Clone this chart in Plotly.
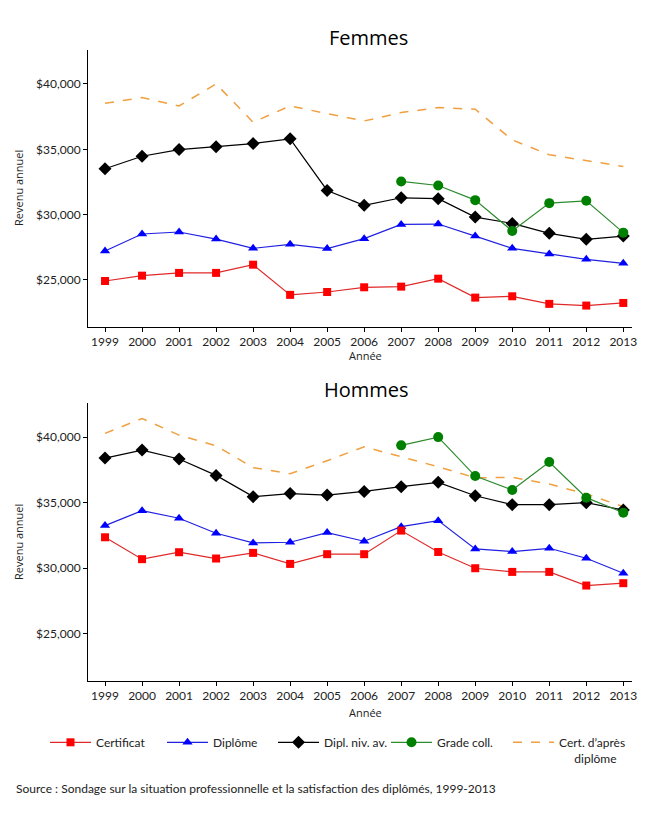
import plotly.graph_objects as go

years = list(range(1999, 2014))
years_grade = list(range(2007, 2014))

# Femmes
f_certificat = [24920, 25330, 25540, 25540, 26170, 23860, 24080, 24440, 24490, 25100, 23650, 23750, 23170, 23040, 23240]
f_diplome = [27220, 28520, 28670, 28130, 27420, 27730, 27400, 28160, 29250, 29280, 28360, 27420, 26990, 26580, 26270]
f_dipl_niv_av = [33510, 34470, 34980, 35190, 35440, 35800, 31850, 30710, 31290, 31220, 29810, 29330, 28570, 28110, 28360]
f_grade_coll = [32540, 32230, 31110, 28750, 30880, 31060, 28620]
f_cert_apres = [38520, 38960, 38320, 40000, 37070, 38320, 37730, 37170, 37810, 38190, 38070, 35720, 34580, 34140, 33690]

# Hommes
h_certificat = [32360, 30690, 31220, 30740, 31170, 30330, 31070, 31070, 32870, 31240, 30000, 29720, 29720, 28680, 28860]
h_diplome = [33250, 34390, 33810, 32670, 31930, 31980, 32720, 32060, 33170, 33630, 31470, 31270, 31520, 30760, 29620]
h_dipl_niv_av = [38400, 39010, 38330, 37080, 35460, 35690, 35580, 35860, 36220, 36550, 35530, 34850, 34850, 35000, 34440]
h_grade_coll = [39370, 40000, 37030, 35960, 38100, 35380, 34240]
h_cert_apres = [40280, 41420, 40150, 39340, 37670, 37210, 38200, 39260, 38500, 37740, 36900, 36930, 36420, 35660, 34700]

series_names = ["Certificat", "Diplôme", "Dipl. niv. av.", "Grade coll.",
                "Cert. d’après<br>&nbsp;&nbsp;&nbsp;&nbsp;&nbsp;diplôme"]
y_ticks = [25000, 30000, 35000, 40000]

W, H = 650, 813
OFF = 8  # page body margin
ML = 88 - OFF
MR = W - (632 - OFF)
PW = W - ML - MR
TICKFONT = dict(family="Lato, Open Sans, sans-serif", size=12, color="#222")
LEGFONT = dict(family="Lato, Open Sans, sans-serif", size=12, color="#222")

fig = go.Figure()

def add_panel(xa, ya, cert, dipl, niv, grade, apres, show):
    fig.add_trace(go.Scatter(x=years, y=apres, mode="lines", name=series_names[4],
                             line=dict(color="#F0A040", width=1.5, dash="dash"),
                             xaxis=xa, yaxis=ya, showlegend=show, legend="legend5"))
    fig.add_trace(go.Scatter(x=years, y=niv, mode="lines+markers", name=series_names[2],
                             line=dict(color="#000000", width=1.2),
                             marker=dict(symbol="diamond", size=10, color="#000000"),
                             xaxis=xa, yaxis=ya, showlegend=show, legend="legend3"))
    fig.add_trace(go.Scatter(x=years, y=dipl, mode="lines+markers", name=series_names[1],
                             line=dict(color="#2020E0", width=1.2),
                             marker=dict(symbol="triangle-up", size=9, color="#0000FF"),
                             xaxis=xa, yaxis=ya, showlegend=show, legend="legend2"))
    fig.add_trace(go.Scatter(x=years, y=cert, mode="lines+markers", name=series_names[0],
                             line=dict(color="#E02828", width=1.2),
                             marker=dict(symbol="square", size=8, color="#FF0000"),
                             xaxis=xa, yaxis=ya, showlegend=show, legend="legend"))
    fig.add_trace(go.Scatter(x=years_grade, y=grade, mode="lines+markers", name=series_names[3],
                             line=dict(color="#2E8B2E", width=1.2),
                             marker=dict(symbol="circle", size=10, color="#008000"),
                             xaxis=xa, yaxis=ya, showlegend=show, legend="legend4"))

add_panel("x", "y", f_certificat, f_diplome, f_dipl_niv_av, f_grade_coll, f_cert_apres, True)
add_panel("x2", "y2", h_certificat, h_diplome, h_dipl_niv_av, h_grade_coll, h_cert_apres, False)

def xaxis_cfg(anchor):
    return dict(anchor=anchor, domain=[0, 1], range=[1998.54, 2013.235],
                tickvals=years, ticktext=[str(y) for y in years],
                showline=True, linecolor="#000", linewidth=1,
                ticks="outside", ticklen=4, tickcolor="#000",
                showgrid=False, zeroline=False, tickfont=TICKFONT)

def yaxis_cfg(anchor, domain):
    return dict(anchor=anchor, domain=domain, range=[21400, 42600],
                tickvals=y_ticks, tickformat="$,.0f",
                showline=True, linecolor="#000", linewidth=1,
                ticks="outside", ticklen=4, tickcolor="#000",
                showgrid=False, zeroline=False, tickfont=TICKFONT)

def py(pix):
    return 1 - (pix - OFF) / H

def px(pix):
    return (pix - OFF - ML) / PW

def legend_at(line_start):
    return dict(orientation="h", xref="container", x=(line_start - 6 - OFF) / W, xanchor="left",
                yref="container", y=py(728), yanchor="top", itemwidth=41,
                font=LEGFONT, bgcolor="rgba(0,0,0,0)", valign="top")

fig.update_layout(
    width=W, height=H,
    margin=dict(l=ML, r=MR, t=0, b=0, autoexpand=False),
    paper_bgcolor="white", plot_bgcolor="white",
    xaxis=xaxis_cfg("y"),
    yaxis=yaxis_cfg("x", [py(327), py(50)]),
    xaxis2=xaxis_cfg("y2"),
    yaxis2=yaxis_cfg("x2", [py(681), py(403)]),
    legend=legend_at(51),
    legend2=legend_at(168),
    legend3=legend_at(279),
    legend4=legend_at(392),
    legend5=legend_at(514),
    font=dict(family="Lato, Open Sans, sans-serif", color="#222"),
)

annots = [
    dict(text="Femmes", x=px(368), y=py(38), font=dict(family="Open Sans, sans-serif", size=20, color="#000")),
    dict(text="Hommes", x=px(366), y=py(389), font=dict(family="Open Sans, sans-serif", size=20, color="#000")),
    dict(text="Revenu annuel", x=px(18), y=py(188), textangle=-90,
         font=dict(family="Open Sans, sans-serif", size=11, color="#222")),
    dict(text="Revenu annuel", x=px(18), y=py(542), textangle=-90,
         font=dict(family="Open Sans, sans-serif", size=11, color="#222")),
    dict(text="Année", x=px(365), y=py(355), font=dict(family="Open Sans, sans-serif", size=11, color="#222")),
    dict(text="Année", x=px(365), y=py(712), font=dict(family="Open Sans, sans-serif", size=11, color="#222")),
    dict(text="Source : Sondage sur la situation professionnelle et la satisfaction des diplômés, 1999-2013",
         x=px(14), y=py(788), xanchor="left",
         font=dict(family="Lato, Open Sans, sans-serif", size=12, color="#222")),
]
for a in annots:
    a.setdefault("xanchor", "center")
    fig.add_annotation(xref="paper", yref="paper", showarrow=False, yanchor="middle", **a)

fig.write_html("out.html")
